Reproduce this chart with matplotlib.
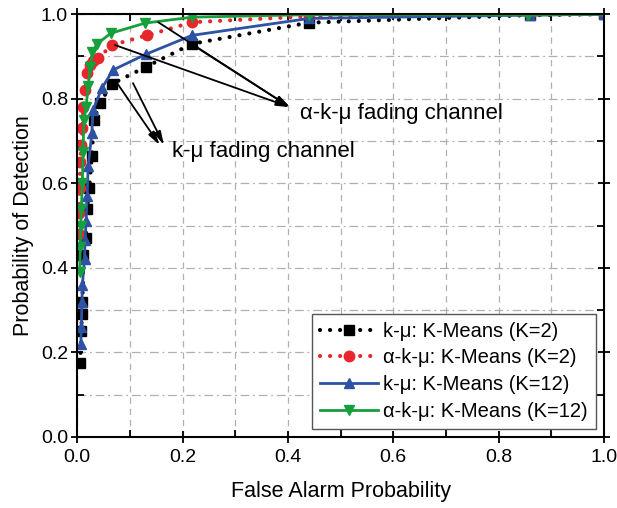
import numpy as np
import matplotlib
matplotlib.use('Agg')
import matplotlib.pyplot as plt
from matplotlib.ticker import MultipleLocator

plt.rcParams['font.family'] = ['Liberation Sans', 'DejaVu Sans']

# ROC points
pfa_km2 = [0.006, 0.008, 0.009, 0.010, 0.012, 0.016, 0.019, 0.023, 0.028, 0.032,
           0.043, 0.066, 0.130, 0.218, 0.440, 0.860, 1.0]
pd_km2 = [0.175, 0.25, 0.29, 0.32, 0.43, 0.47, 0.54, 0.59, 0.665, 0.75,
          0.79, 0.835, 0.875, 0.93, 0.98, 0.998, 1.0]

pfa_akm2 = [0.003, 0.004, 0.005, 0.006, 0.008, 0.010, 0.012, 0.015, 0.019, 0.024,
            0.030, 0.040, 0.066, 0.133, 0.218, 0.440, 0.860, 1.0]
pd_akm2 = [0.48, 0.53, 0.59, 0.65, 0.69, 0.73, 0.78, 0.82, 0.86, 0.88,
           0.89, 0.896, 0.927, 0.95, 0.981, 0.995, 1.0, 1.0]

pfa_km12 = [0.007, 0.008, 0.009, 0.010, 0.014, 0.015, 0.017, 0.019, 0.021, 0.028,
            0.030, 0.047, 0.068, 0.130, 0.218, 0.440, 0.860, 1.0]
pd_km12 = [0.22, 0.26, 0.32, 0.36, 0.42, 0.465, 0.51, 0.57, 0.64, 0.72,
           0.773, 0.825, 0.868, 0.905, 0.95, 0.99, 0.998, 1.0]

pfa_akm12 = [0.005, 0.006, 0.007, 0.008, 0.010, 0.011, 0.013, 0.017, 0.021, 0.025,
             0.029, 0.038, 0.064, 0.129, 0.218, 0.440, 0.856, 1.0]
pd_akm12 = [0.39, 0.45, 0.50, 0.54, 0.60, 0.675, 0.75, 0.78, 0.83, 0.875,
            0.91, 0.93, 0.955, 0.979, 0.993, 0.999, 0.998, 1.0]

fig = plt.figure(figsize=(6.17, 5.08), dpi=100)
ax = fig.add_axes([0.125, 0.14, 0.854, 0.832])

dots = (0, (0.01, 2.4))
ax.plot(pfa_km2, pd_km2, color='black', linestyle=dots, lw=3, dash_capstyle='round',
        marker='s', ms=7, label='k-μ: K-Means (K=2)')
ax.plot(pfa_akm2, pd_akm2, color='#e8262b', linestyle=dots, lw=3, dash_capstyle='round',
        marker='o', ms=7.5, label='α-k-μ: K-Means (K=2)')
ax.plot(pfa_km12, pd_km12, color='#2d52a3', lw=2, marker='^', ms=7,
        label='k-μ: K-Means (K=12)')
ax.plot(pfa_akm12, pd_akm12, color='#15a03c', lw=2, marker='v', ms=7,
        label='α-k-μ: K-Means (K=12)')

# arrows pointing at the two channel groups
aprops = dict(arrowstyle='-|>,head_length=0.8,head_width=0.2', color='black', lw=1.3,
              shrinkA=0, shrinkB=0)
for start in [(0.154, 0.981), (0.072, 0.927), (0.220, 0.927)]:
    ax.annotate('', xy=(0.404, 0.780), xytext=start, arrowprops=aprops)
for start, end in [((0.072, 0.844), (0.157, 0.690)), ((0.106, 0.837), (0.165, 0.690))]:
    ax.annotate('', xy=end, xytext=start, arrowprops=aprops)
ax.text(0.423, 0.766, 'α-k-μ fading channel', fontsize=16, va='center')
ax.text(0.18, 0.676, 'k-μ fading channel', fontsize=16, va='center')

ax.set_xlim(0, 1)
ax.set_ylim(0, 1)
ax.xaxis.set_major_locator(MultipleLocator(0.2))
ax.yaxis.set_major_locator(MultipleLocator(0.2))
ax.xaxis.set_minor_locator(MultipleLocator(0.1))
ax.yaxis.set_minor_locator(MultipleLocator(0.1))
ax.xaxis.set_major_formatter('{x:.1f}')
ax.yaxis.set_major_formatter('{x:.1f}')
ax.tick_params(which='major', direction='inout', length=9, width=1.3, labelsize=14,
               top=True, right=True)
ax.tick_params(which='minor', direction='in', length=5, width=1.3, top=True, right=True)
ax.tick_params(axis='x', which='major', pad=4)
ax.tick_params(axis='y', which='major', pad=2)
for s in ax.spines.values():
    s.set_linewidth(1.5)

ax.grid(True, which='both', axis='x', color='#b0b0b0', linestyle=(0, (5, 4)), lw=0.9)
ax.grid(True, which='both', axis='y', color='#b0b0b0', linestyle=(0, (7, 3, 1.5, 3)), lw=0.9)
ax.set_axisbelow(True)

ax.set_xlabel('False Alarm Probability', fontsize=15.5, labelpad=11)
ax.set_ylabel('Probability of Detection', fontsize=15.5, labelpad=5)

leg = ax.legend(loc='lower right', fontsize=14.5, handlelength=2.9, handletextpad=0.25,
                fancybox=False, edgecolor='#555555', framealpha=1,
                borderaxespad=0.4, labelspacing=0.38, borderpad=0.4)
leg.get_frame().set_linewidth(1.0)

fig.savefig('out.png', dpi=100)
